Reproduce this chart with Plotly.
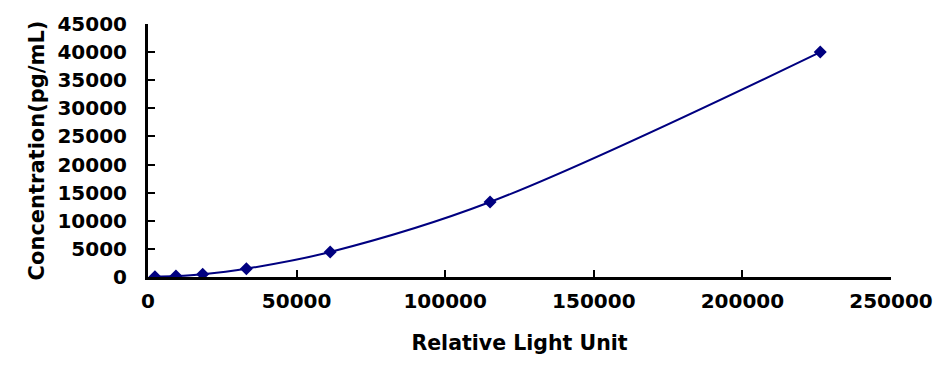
import plotly.graph_objects as go

rlu = [2340, 9400, 18400, 33100, 61300, 115100, 226200]
conc = [55, 165, 494, 1481, 4444, 13333, 40000]

x_ticks = [0, 50000, 100000, 150000, 200000, 250000]
y_ticks = [0, 5000, 10000, 15000, 20000, 25000, 30000, 35000, 40000, 45000]

font = dict(family="DejaVu Sans", size=20, color="black")

fig = go.Figure()
fig.add_trace(go.Scatter(
    x=rlu, y=conc, mode="lines+markers",
    line=dict(color="#000080", width=2, shape="spline", smoothing=1),
    marker=dict(symbol="diamond", size=10, color="#000080"),
    showlegend=False,
))

fig.update_layout(
    width=945, height=370,
    margin=dict(l=148, r=47, t=22, b=93),
    paper_bgcolor="white", plot_bgcolor="white",
    font=font,
)
fig.update_xaxes(
    range=[0, 250000], tickvals=x_ticks, ticktext=[str(v) for v in x_ticks],
    showgrid=False, zeroline=False,
    showline=True, linecolor="black", linewidth=3,
    ticks="inside", ticklen=7, tickwidth=2, tickcolor="black",
    ticklabelstandoff=4,
    tickfont=dict(family="DejaVu Sans", size=20, color="black", weight="bold"),
    title=dict(text="<b>Relative Light Unit</b>", standoff=24,
               font=dict(family="DejaVu Sans", size=20.5, color="black")),
)
fig.update_yaxes(
    range=[0, 45000], tickvals=y_ticks, ticktext=[str(v) for v in y_ticks],
    showgrid=False, zeroline=False,
    showline=True, linecolor="black", linewidth=3,
    ticks="inside", ticklen=7, tickwidth=2, tickcolor="black",
    ticklabelstandoff=14,
    tickfont=dict(family="DejaVu Sans", size=20, color="black", weight="bold"),
    title=dict(text="<b>Concentration(pg/mL)</b>", standoff=8,
               font=dict(family="DejaVu Sans", size=21, color="black")),
)

fig.write_html("out.html")
